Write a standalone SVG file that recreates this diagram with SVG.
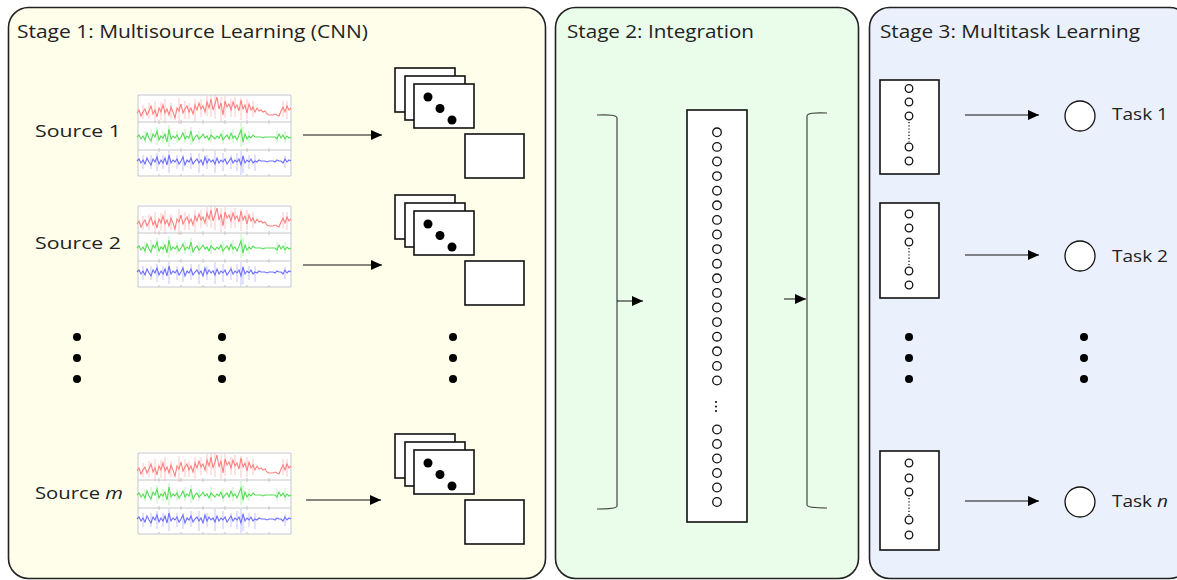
<svg xmlns="http://www.w3.org/2000/svg" xmlns:xlink="http://www.w3.org/1999/xlink" width="1177" height="580" viewBox="0 0 1177 580">
<style>
.panel{stroke:#222;stroke-width:1.6}
.title{font-family:"Open Sans","Liberation Sans",sans-serif;font-size:18px;fill:#222}
.lbl{font-family:"Open Sans","Liberation Sans",sans-serif;font-size:17px;fill:#222}
.box{fill:#fff;stroke:#111;stroke-width:1.6}
.conn{stroke:#111;stroke-width:1;fill:none}
.brk{stroke:#444;stroke-width:1.2;fill:none}
.nn{fill:#fff;stroke:#111;stroke-width:1.3}
.dot{fill:#000}
.grid{stroke:#c0c0c0;stroke-width:0.9;fill:none}
</style>
<defs>
<marker id="ah" markerUnits="userSpaceOnUse" markerWidth="12" markerHeight="10" refX="11" refY="5" orient="auto">
<path d="M0,0 L11,5 L0,10 Z" fill="#000"/>
</marker>
<g id="sig">
<rect x="0" y="0" width="155" height="84" fill="#fff"/>
<path class="grid" d="M1,2H154M1,29H154M1,57H154M1,83H154M1,2V83M154,2V83M22,27V31M44,27V31M66,27V31M88,27V31M110,27V31M132,27V31M22,55V59M44,55V59M66,55V59M88,55V59M110,55V59M132,55V59M22,81V83M44,81V83M66,81V83M88,81V83M110,81V83M132,81V83"/>
<path d="M6,12v14M12,10v16M18,8v22M24,9v18M28,6v24M34,10v16M42,5v26M48,8v18M52,10v16M58,6v22M64,6v18M70,3v20M74,2v22M78,2v24M84,4v24M88,3v22M94,6v18M98,4v20M104,5v22M110,6v20M116,8v16M146,8v16M150,8v18" stroke="#ff9a9a" stroke-width="0.8" opacity="0.7"/>
<path d="M8,38v12M14,36v14M20,34v18M26,38v12M32,32v22M40,38v12M48,36v14M54,34v18M62,38v12M74,36v14M86,37v14M96,36v14M104,30v24M106,34v18M112,38v12M140,38v12M148,38v12" stroke="#8de88d" stroke-width="0.8" opacity="0.7"/>
<path d="M6,62v14M14,62v14M20,60v18M26,62v14M32,58v22M40,62v14M46,62v16M54,60v16M62,60v20M70,62v14M78,58v22M86,60v18M94,62v14M100,60v18M104,58v24M106,62v18M112,62v14M118,62v16M148,63v12" stroke="#9a9aff" stroke-width="0.8" opacity="0.7"/>
<polyline fill="none" stroke="#ff8080" stroke-width="1.1" points="0,20 2,17 4,23 6,19 8,16 10,22 12,18 14,13 16,21 18,17 20,24 22,15 24,19 26,12 28,20 30,16 32,22 34,14 36,19 38,25 40,15 42,18 44,11 46,20 48,16 50,13 52,19 54,15 56,21 58,12 60,17 62,10 64,16 66,13 68,19 70,9 72,15 74,6 76,17 78,11 80,4 82,16 84,10 86,22 88,8 90,14 92,11 94,17 96,9 98,15 100,12 102,18 104,7 106,16 108,12 110,20 112,11 114,17 116,14 118,19 120,15 122,18 124,17 126,19 128,18 130,21 132,22 134,22 136,22 138,21 140,22 142,23 144,18 146,14 148,19 150,13 152,17 154,15"/>
<polyline fill="none" stroke="#55dd55" stroke-width="1.1" points="0,44 2,42 4,46 6,43 8,47 10,40 12,45 14,48 16,41 18,44 20,38 22,47 24,43 26,45 28,41 30,49 32,36 34,46 36,43 38,45 40,42 42,47 44,44 46,40 48,46 50,43 52,45 54,38 56,48 58,44 60,42 62,46 64,44 66,41 68,45 70,43 72,47 74,42 76,44 78,46 80,43 82,45 84,41 86,47 88,44 90,42 92,46 94,40 96,45 98,43 100,47 102,42 104,37 106,49 108,41 110,46 112,43 114,45 116,42 118,44 120,44 122,44 124,44 126,45 128,44 130,44 132,44 134,44 136,44 138,44 140,46 142,41 144,45 146,42 148,46 150,43 152,45 154,44"/>
<polyline fill="none" stroke="#6f6fff" stroke-width="1.1" points="0,68 2,66 4,70 6,67 8,71 10,65 12,69 14,72 16,66 18,69 20,64 22,71 24,67 26,70 28,65 30,72 32,62 34,70 36,67 38,69 40,66 42,71 44,68 46,64 48,72 50,67 52,69 54,65 56,71 58,68 60,66 62,70 64,67 66,72 68,64 70,70 72,66 74,69 76,67 78,71 80,65 82,70 84,67 86,69 88,66 90,71 92,68 94,65 96,70 98,67 100,69 102,66 104,72 106,63 108,70 110,67 112,69 114,66 116,70 118,68 120,69 122,67 124,68 126,68 128,68 130,69 132,68 134,68 136,68 138,69 140,67 142,68 144,68 146,70 148,66 150,69 152,67 154,68"/>
</g>
<g id="fmap">
<rect class="box" x="395" y="68" width="60" height="44"/>
<rect class="box" x="405" y="76" width="60" height="44"/>
<rect class="box" x="414" y="84" width="60" height="44"/>
<circle class="dot" cx="428" cy="97" r="4.5"/>
<circle class="dot" cx="440" cy="108.5" r="4.5"/>
<circle class="dot" cx="452" cy="120" r="4.5"/>
<rect class="box" x="465" y="134" width="59" height="44"/>
</g>
</defs>

<g id="stage1">
<rect class="panel" x="8.5" y="7.5" width="537" height="571" rx="20" fill="#FEFEEA"/>
<text class="title" x="17" y="38" textLength="351" lengthAdjust="spacingAndGlyphs">Stage 1: Multisource Learning (CNN)</text>
</g>
<g id="stage2">
<rect class="panel" x="555.5" y="7.5" width="303" height="571" rx="20" fill="#EAFCEA"/>
<text class="title" x="567" y="38" textLength="187" lengthAdjust="spacingAndGlyphs">Stage 2: Integration</text>
</g>
<g id="stage3">
<rect class="panel" x="869.5" y="7.5" width="320" height="571" rx="20" fill="#EAF0FC"/>
<text class="title" x="880" y="38" textLength="260" lengthAdjust="spacingAndGlyphs">Stage 3: Multitask Learning</text>
</g>

<g id="source1">
<text class="lbl" x="35" y="137" textLength="86" lengthAdjust="spacingAndGlyphs">Source 1</text>
<use xlink:href="#sig" href="#sig" transform="translate(137,93)"/>
<use xlink:href="#fmap" href="#fmap"/>
</g>
<g id="source2">
<text class="lbl" x="35" y="249" textLength="86" lengthAdjust="spacingAndGlyphs">Source 2</text>
<use xlink:href="#sig" href="#sig" transform="translate(137,204)"/>
<use xlink:href="#fmap" href="#fmap" transform="translate(0,127)"/>
</g>
<g id="sourcem">
<text class="lbl" x="35" y="499" textLength="88" lengthAdjust="spacingAndGlyphs">Source <tspan font-style="italic">m</tspan></text>
<use xlink:href="#sig" href="#sig" transform="translate(137,451)"/>
<use xlink:href="#fmap" href="#fmap" transform="translate(0,366)"/>
</g>
<g id="ellipsis1">
<circle class="dot" cx="77" cy="337" r="4"/><circle class="dot" cx="77" cy="358" r="4"/><circle class="dot" cx="77" cy="379" r="4"/>
<circle class="dot" cx="222" cy="337" r="4"/><circle class="dot" cx="222" cy="358" r="4"/><circle class="dot" cx="222" cy="379" r="4"/>
<circle class="dot" cx="453" cy="337" r="4"/><circle class="dot" cx="453" cy="358" r="4"/><circle class="dot" cx="453" cy="379" r="4"/>
</g>

<g id="integration">
<rect class="box" x="687" y="110" width="60" height="412"/>
<g class="nn">
<circle cx="717" cy="132.3" r="4.3"/><circle cx="717" cy="146.9" r="4.3"/><circle cx="717" cy="161.5" r="4.3"/><circle cx="717" cy="176.1" r="4.3"/><circle cx="717" cy="190.7" r="4.3"/><circle cx="717" cy="205.3" r="4.3"/><circle cx="717" cy="219.9" r="4.3"/><circle cx="717" cy="234.5" r="4.3"/><circle cx="717" cy="249.1" r="4.3"/><circle cx="717" cy="263.7" r="4.3"/><circle cx="717" cy="278.3" r="4.3"/><circle cx="717" cy="292.9" r="4.3"/><circle cx="717" cy="307.5" r="4.3"/><circle cx="717" cy="322.1" r="4.3"/><circle cx="717" cy="336.7" r="4.3"/><circle cx="717" cy="351.3" r="4.3"/><circle cx="717" cy="365.9" r="4.3"/><circle cx="717" cy="380.5" r="4.3"/>
<circle cx="717" cy="429.5" r="4.3"/><circle cx="717" cy="444" r="4.3"/><circle cx="717" cy="458.5" r="4.3"/><circle cx="717" cy="473" r="4.3"/><circle cx="717" cy="487.5" r="4.3"/><circle cx="717" cy="502" r="4.3"/>
</g>
<circle class="dot" cx="716" cy="402" r="1"/><circle class="dot" cx="716" cy="406.5" r="1"/><circle class="dot" cx="716" cy="411" r="1"/>
</g>

<g id="task1">
<rect class="box" x="880" y="80" width="59" height="94"/>
<g class="nn"><circle cx="909" cy="88.5" r="3.8"/><circle cx="909" cy="102" r="3.8"/><circle cx="909" cy="116" r="3.8"/><circle cx="909" cy="147" r="3.8"/><circle cx="909" cy="161" r="3.8"/></g>
<path d="M909,122V142" stroke="#000" stroke-width="1.2" stroke-dasharray="1.2,2"/>
<circle class="nn" cx="1080" cy="116" r="15"/>
<text class="lbl" x="1112" y="120" textLength="56" lengthAdjust="spacingAndGlyphs">Task 1</text>
</g>
<g id="task2">
<rect class="box" x="880" y="203" width="59" height="95"/>
<g class="nn"><circle cx="909" cy="214" r="3.8"/><circle cx="909" cy="228" r="3.8"/><circle cx="909" cy="242" r="3.8"/><circle cx="909" cy="271" r="3.8"/><circle cx="909" cy="285" r="3.8"/></g>
<path d="M909,248V266" stroke="#000" stroke-width="1.2" stroke-dasharray="1.2,2"/>
<circle class="nn" cx="1080" cy="256" r="15"/>
<text class="lbl" x="1112" y="262" textLength="56" lengthAdjust="spacingAndGlyphs">Task 2</text>
</g>
<g id="taskn">
<rect class="box" x="880" y="451" width="59" height="99"/>
<g class="nn"><circle cx="909" cy="463" r="3.8"/><circle cx="909" cy="478" r="3.8"/><circle cx="909" cy="492" r="3.8"/><circle cx="909" cy="520" r="3.8"/><circle cx="909" cy="535" r="3.8"/></g>
<path d="M909,498V515" stroke="#000" stroke-width="1.2" stroke-dasharray="1.2,2"/>
<circle class="nn" cx="1080" cy="502" r="15"/>
<text class="lbl" x="1112" y="507" textLength="56" lengthAdjust="spacingAndGlyphs">Task <tspan font-style="italic">n</tspan></text>
</g>
<g id="ellipsis3">
<circle class="dot" cx="909" cy="337" r="4"/><circle class="dot" cx="909" cy="358" r="4"/><circle class="dot" cx="909" cy="379" r="4"/>
<circle class="dot" cx="1084" cy="337" r="4"/><circle class="dot" cx="1084" cy="358" r="4"/><circle class="dot" cx="1084" cy="379" r="4"/>
</g>

<g id="connectors">
<line class="conn" x1="303" y1="135" x2="382" y2="135" marker-end="url(#ah)"/>
<line class="conn" x1="303" y1="265" x2="382" y2="265" marker-end="url(#ah)"/>
<line class="conn" x1="306" y1="500" x2="381" y2="500" marker-end="url(#ah)"/>
<path class="brk" d="M597,115 Q617,114 617,118 V506 Q617,509 597,509"/>
<path class="brk" d="M827,113 Q807,112 807,116 V505 Q807,508 827,508"/>
<line class="conn" x1="617" y1="301" x2="643" y2="301" marker-end="url(#ah)"/>
<line class="conn" x1="784" y1="299" x2="806" y2="299" marker-end="url(#ah)"/>
<line class="conn" x1="965" y1="115" x2="1039" y2="115" marker-end="url(#ah)"/>
<line class="conn" x1="965" y1="255" x2="1039" y2="255" marker-end="url(#ah)"/>
<line class="conn" x1="965" y1="501" x2="1039" y2="501" marker-end="url(#ah)"/>
</g>
</svg>
